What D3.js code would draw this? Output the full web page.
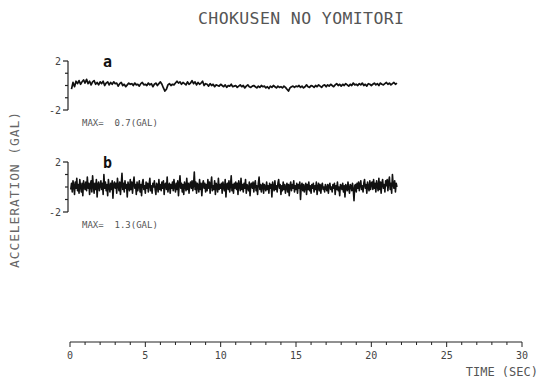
<!DOCTYPE html>
<html><head><meta charset="utf-8">
<script src="https://cdn.jsdelivr.net/npm/d3@7"></script>
<style>
html,body{margin:0;padding:0;background:#fff;}
svg{display:block;}
text{font-family:"DejaVu Sans Mono",monospace;}
</style></head>
<body>
<svg id="chart" width="539" height="384"></svg>
<script>
// ---------------- data ----------------
const title = "CHOKUSEN NO YOMITORI";
const yAxisTitle = "ACCELERATION (GAL)";
const xAxisTitle = "TIME (SEC)";
const panelLetters = ["a", "b"];
const maxLabels = ["MAX=  0.7(GAL)", "MAX=  1.3(GAL)"];
const timeTickValues = [0, 5, 10, 15, 20, 25, 30];
const timeMinorTicks = d3.range(0, 31, 1);
const accTickValues = [-2, -1, 0, 1, 2];
const accTickLabels = ["-2", "", "", "", "2"];
const sampleStepA = 0.1;   // seconds
const sampleStepB = 0.05;  // seconds

// trace a (GAL), one value every 0.1 s
const traceA = [
 -0.3,0.25,-0.1,0.35,0.15,0.4,0.1,0.3,0.45,0.2,
 0.5,0.15,0.35,0.05,0.3,0.4,0.1,0.25,0.05,0.3,
 0.15,0.35,0.0,0.2,0.3,0.05,0.25,0.1,0.3,0.15,
 0.2,-0.05,0.15,0.25,0.0,0.1,-0.1,0.05,0.2,0.1,
 0.15,0.0,0.2,0.05,0.1,-0.05,0.15,0.25,0.05,0.1,
 0.0,0.2,0.05,0.15,-0.1,0.1,0.2,0.0,0.15,0.3,
 0.1,-0.2,-0.45,-0.3,0.05,0.15,0.0,0.1,0.05,0.2,
 0.35,0.2,0.3,0.1,0.25,0.15,0.05,0.3,0.1,0.2,
 0.4,0.15,0.3,0.05,0.25,0.1,0.2,0.35,0.0,0.15,
 0.1,-0.05,0.15,0.0,0.1,-0.1,0.05,0.0,-0.05,0.1,
 0.0,-0.1,0.05,-0.15,0.0,-0.05,0.1,-0.1,-0.05,0.0,
 -0.15,-0.05,0.05,-0.1,0.0,-0.2,-0.05,0.05,-0.1,-0.15,
 -0.05,0.0,-0.1,-0.2,-0.05,-0.15,0.0,-0.1,-0.05,-0.2,
 -0.1,-0.25,-0.05,-0.15,0.0,-0.1,-0.2,-0.05,-0.15,-0.1,
 -0.2,-0.05,-0.15,-0.3,-0.45,-0.2,-0.1,-0.05,-0.15,-0.05,
 -0.1,0.0,-0.15,-0.05,-0.2,-0.1,0.05,-0.1,-0.15,0.0,
 -0.05,-0.15,0.0,-0.1,0.05,-0.05,-0.15,0.0,0.05,-0.1,
 0.05,-0.05,0.1,0.0,-0.1,0.05,0.15,0.0,0.1,-0.05,
 0.1,0.0,0.15,0.05,-0.05,0.1,0.0,0.2,0.05,0.1,
 0.0,0.15,0.05,0.2,0.0,0.1,-0.05,0.15,0.1,0.0,
 0.1,0.2,0.05,0.15,0.0,0.2,0.1,0.05,0.15,0.25,
 0.1,0.2,0.05,0.15,0.25,0.1,0.2
];

// trace b (GAL), one value every 0.05 s
const traceB = [
 -.2,.3,-.4,.5,.1,-.6,.4,-.1,.7,-.3,.2,-.5,.6,.0,-.4,.3,-.7,.5,.1,-.2,
 .4,-.3,.8,-.1,.3,-.6,.2,.5,-.4,.9,.1,-.5,.3,-.2,.6,-.8,.2,.4,-.3,.1,
 .5,-.2,.3,-.6,1.0,-.1,.4,-.3,.2,-.7,.6,.0,-.4,.3,-.2,.5,-.9,.2,.4,-.1,
 .3,-.5,.7,.1,-.3,.4,-.6,.2,1.1,-.2,.3,-.4,.5,-.1,.2,-.8,.4,.0,-.3,.6,
 -.2,.4,-.5,.3,.8,-.1,.2,-.6,.4,-.3,.1,.5,-.4,.2,-.7,.3,.6,-.2,.1,-.5,
 .4,-.1,.3,-.4,.2,.7,-.3,.1,-.5,.3,.0,.5,-.2,-.6,.3,.1,-.4,.6,-.2,.2,
 -.3,.4,-.1,.5,-.6,.2,.3,-.2,.8,-.4,.1,.3,-.5,.2,-.1,.4,-.3,.6,.0,-.4,
 .3,-.2,.5,-.7,.2,.9,-.1,.3,-.4,.2,-.6,.4,.1,-.3,.7,-.2,.3,-.5,.2,.4,
 -.1,.5,-.3,.2,1.2,-.2,.4,-.5,.3,.1,-.4,.6,-.2,.3,-.7,.2,.5,-.1,.3,-.4,
 .2,-.3,.6,-.1,.4,-.5,.2,.8,-.3,.1,-.2,.5,-.6,.3,.1,-.4,.7,-.2,.2,-.1,
 .3,-.5,.4,.0,-.3,.6,-.8,.2,.3,-.2,.5,-.4,.1,.9,-.3,.2,-.5,.3,-.1,.4,
 -.2,.3,-.6,.5,.1,-.3,.7,-.2,.2,-.4,.3,-.1,.6,-.5,.2,.0,-.3,.4,-.7,.2,
 .3,-.1,.4,-.4,.2,.5,-.3,.1,-.6,.3,.8,-.2,.2,-.4,.1,.3,-.5,.2,.0,-.3,
 .4,-.2,.1,-.5,.3,-.1,.2,-.8,.4,.0,-.3,.5,-.2,.1,-.4,.3,.6,-.1,.2,-.6,
 .1,-.3,.4,-.2,.2,-.5,.0,.3,-.4,.2,-.7,.1,.4,-.3,.2,-.1,.5,-.4,.1,-.2,
 .3,-.5,.2,-.1,.4,-1.0,.1,.3,-.3,.2,-.4,.0,.3,-.6,.2,-.2,.4,-.3,.1,-.5,
 .2,-.1,.3,-.4,.1,-.2,.4,-.6,.0,.3,-.3,.2,-.5,.1,.3,-.2,.0,-.4,.2,-.1,
 -.3,.2,-.5,.1,.3,-.2,.0,-.4,.2,-.1,.3,-.6,.1,-.2,.4,-.3,.0,-.7,.2,.1,
 -.2,.3,-.4,.1,-.8,.2,.0,-.3,.4,-.1,-.5,.2,.1,-.3,.3,-.2,-1.1,.1,.2,-.4,
 .3,-.1,.4,-.3,.2,.5,-.2,.1,-.4,.3,.6,-.1,.2,-.5,.4,.0,-.3,.5,-.2,.3,
 .4,-.2,.6,-.1,.3,-.4,.5,.1,-.3,.7,-.2,.4,-.5,.3,.6,-.1,.2,-.4,.5,.1,
 .6,-.3,.4,.8,-.2,.3,-.5,1.0,.2,-.1,.5,-.4,.3,.0
];

// ---------------- drawing ----------------
const svg = d3.select("#chart");
const ink = "#222";

const x = d3.scaleLinear().domain([0, 30]).range([70, 522]);
const panels = [
  {trace: traceA, step: sampleStepA, y: d3.scaleLinear().domain([-2, 2]).range([110, 61]), sw: 1.7},
  {trace: traceB, step: sampleStepB, y: d3.scaleLinear().domain([-2, 2]).range([212, 162]), sw: 1.6}
];

// title
svg.append("text").attr("x", 301).attr("y", 24).attr("text-anchor", "middle")
  .attr("font-size", 16.5).attr("fill", "#555").attr("textLength", 206)
  .text(title);

// y axis title
svg.append("text").attr("transform", "translate(19,190) rotate(-90)")
  .attr("text-anchor", "middle").attr("font-size", 13).attr("fill", "#666")
  .attr("textLength", 156).text(yAxisTitle);

panels.forEach((p, i) => {
  const ax = 68;
  const g = svg.append("g");
  // vertical axis
  g.append("line").attr("x1", ax).attr("x2", ax)
    .attr("y1", p.y(2)).attr("y2", p.y(-2)).attr("stroke", ink).attr("stroke-width", 1.2);
  accTickValues.forEach((v, k) => {
    const major = Math.abs(v) === 2;
    g.append("line").attr("x1", ax - (major ? 5 : 3)).attr("x2", ax)
      .attr("y1", p.y(v)).attr("y2", p.y(v)).attr("stroke", ink).attr("stroke-width", 1.2);
    if (accTickLabels[k]) {
      g.append("text").attr("x", ax - 7).attr("y", p.y(v) + 3.5)
        .attr("text-anchor", "end").attr("font-size", 10).attr("fill", "#444")
        .text(accTickLabels[k]);
    }
  });
  // trace
  const line = d3.line()
    .x((d, j) => x((j + 1) * p.step))
    .y(d => p.y(d));
  g.append("path").datum(p.trace).attr("d", line)
    .attr("fill", "none").attr("stroke", "#111").attr("stroke-width", p.sw)
    .attr("stroke-linejoin", "round");
  // panel letter
  g.append("text").attr("x", 103).attr("y", p.y(2) + 6)
    .attr("font-family", "'DejaVu Serif', 'Liberation Serif', serif").attr("font-weight", "bold")
    .attr("font-size", 15).attr("fill", "#111").text(panelLetters[i]);
  // max label
  g.append("text").attr("x", 82).attr("y", p.y(-2) + 16)
    .attr("font-size", 9).attr("fill", "#555").attr("xml:space", "preserve")
    .style("white-space", "pre").text(maxLabels[i]);
});

// time axis
const axY = 342;
const gx = svg.append("g");
gx.append("line").attr("x1", x(0)).attr("x2", x(30)).attr("y1", axY).attr("y2", axY)
  .attr("stroke", ink).attr("stroke-width", 1);
gx.selectAll(".minor").data(timeMinorTicks).enter().append("line")
  .attr("x1", d => x(d)).attr("x2", d => x(d))
  .attr("y1", axY).attr("y2", d => axY + (d % 5 === 0 ? 5 : 3))
  .attr("stroke", ink).attr("stroke-width", 1);
gx.selectAll(".lbl").data(timeTickValues).enter().append("text")
  .attr("x", d => x(d)).attr("y", axY + 17).attr("text-anchor", "middle")
  .attr("font-size", 10).attr("fill", "#444").text(d => d);
gx.append("text").attr("x", 538).attr("y", 376).attr("text-anchor", "end")
  .attr("font-size", 12).attr("fill", "#555").text(xAxisTitle);
</script>
</body></html>
